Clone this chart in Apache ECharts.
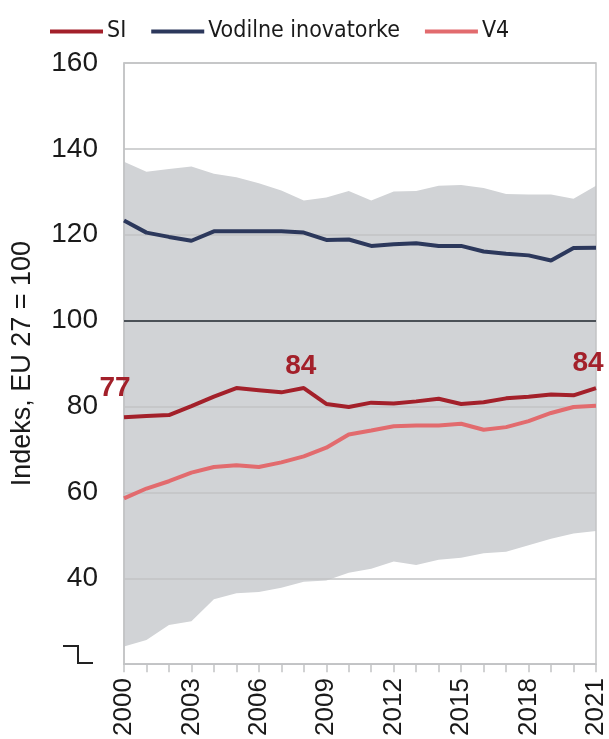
<!DOCTYPE html>
<html>
<head>
  <meta charset="UTF-8">
  <script src="https://cdn.jsdelivr.net/npm/echarts@6/dist/echarts.min.js"></script>
  <style>
    html, body { margin: 0; padding: 0; background: #fff; }
    #chart { width: 609px; height: 739px; }
  </style>
</head>
<body>
  <div id="chart"></div>
  <script>
    // podatki
    var years = ['2000','2001','2002','2003','2004','2005','2006','2007','2008','2009','2010',
                 '2011','2012','2013','2014','2015','2016','2017','2018','2019','2020','2021'];
    var si = [77.5, 77.8, 78.0, 80.1, 82.3, 84.3, 83.8, 83.3, 84.3, 80.6, 79.9,
              80.9, 80.7, 81.2, 81.8, 80.6, 81.0, 81.9, 82.3, 82.8, 82.6, 84.3];
    var leaders = [123.3, 120.5, 119.5, 118.6, 120.8, 120.8, 120.8, 120.8, 120.5, 118.8, 118.9,
                   117.4, 117.8, 118.0, 117.4, 117.4, 116.1, 115.6, 115.2, 114.0, 116.9, 117.0];
    var v4 = [58.6, 60.9, 62.6, 64.6, 65.9, 66.3, 65.9, 67.0, 68.4, 70.4, 73.5,
              74.4, 75.4, 75.6, 75.6, 76.0, 74.6, 75.2, 76.6, 78.5, 79.9, 80.2];
    // razpon vseh drzav EU (min / max)
    var bandMin = [24.1, 25.6, 29.1, 30.0, 35.1, 36.5, 36.8, 37.8, 39.2, 39.5, 41.3,
                   42.2, 43.9, 43.1, 44.3, 44.8, 45.8, 46.2, 47.7, 49.2, 50.4, 51.0];
    var bandMax = [137.0, 134.7, 135.3, 135.9, 134.2, 133.4, 132.0, 130.3, 128.0, 128.7, 130.2,
                   128.0, 130.1, 130.2, 131.4, 131.6, 130.9, 129.5, 129.4, 129.4, 128.4, 131.4];
    var yTicks = [20, 160, 20];  // min, max, interval
    var siLabels = { 0: '77', 8: '84', 21: '84' };

    var bandSpan = bandMax.map(function (v, i) { return +(v - bandMin[i]).toFixed(1); });

    var redDark = '#a3202a';
    var labelOffsets = { 0: [-9, -10], 8: [-3, -3], 21: [-8, -6] };

    // oznake vrednosti za SI
    var siData = si.map(function (v, i) {
      var item = { value: v };
      if (siLabels[i]) {
        item.label = {
          show: true, position: 'top', offset: labelOffsets[i], formatter: siLabels[i],
          fontFamily: 'Liberation Sans', fontSize: 28, fontWeight: 'bold', color: redDark
        };
      }
      return item;
    });

    var myChart = echarts.init(document.getElementById('chart'));

    myChart.setOption({
      animation: false,
      textStyle: { fontFamily: 'Liberation Sans' },
      legend: {
        data: ['SI', 'Vodilne inovatorke', 'V4'],
        left: 45,
        top: 15,
        icon: 'rect',
        itemWidth: 53,
        itemHeight: 4,
        itemGap: 25,
        textStyle: {
          fontFamily: "'Liberation Sans Narrow', 'DejaVu Sans Condensed', 'Liberation Sans', sans-serif",
          fontSize: 23, color: '#1a1a1a', padding: [0, 0, 0, -1]
        }
      },
      grid: {
        left: 124, right: 12, top: 63, bottom: 74,
        show: true,
        borderColor: '#c2c3c5',
        borderWidth: 1.5
      },
      xAxis: {
        type: 'category',
        data: years,
        boundaryGap: false,
        axisLine: { lineStyle: { color: '#c2c3c5', width: 1.5 } },
        axisTick: { show: true, interval: 0, length: 8, lineStyle: { color: '#c2c3c5', width: 1.5 } },
        axisLabel: { interval: 2, rotate: 90, margin: 14, fontSize: 26, color: '#1a1a1a' },
        splitLine: { show: false }
      },
      yAxis: {
        type: 'value',
        min: yTicks[0],
        max: yTicks[1],
        interval: yTicks[2],
        name: 'Indeks, EU 27 = 100',
        nameLocation: 'middle',
        nameGap: 88,
        nameTextStyle: { fontSize: 27, color: '#1a1a1a' },
        axisLine: { show: true, lineStyle: { color: '#c2c3c5', width: 1.5 } },
        axisTick: { show: false },
        axisLabel: {
          fontSize: 28, color: '#1a1a1a', margin: 26,
          formatter: function (v) { return v === 20 ? '' : v; }
        },
        splitLine: { lineStyle: { color: '#c2c3c5', width: 1.5 } }
      },
      graphic: [{
        // prelom osi
        type: 'polyline',
        shape: { points: [[63, 646], [78, 646], [78, 663], [93, 663]] },
        style: { stroke: '#222', lineWidth: 2, fill: null }
      }],
      series: [
        {
          name: 'min',
          type: 'line',
          stack: 'band',
          data: bandMin,
          symbol: 'none',
          lineStyle: { width: 0 },
          silent: true,
          z: -2
        },
        {
          name: 'razpon',
          type: 'line',
          stack: 'band',
          data: bandSpan,
          symbol: 'none',
          lineStyle: { width: 0 },
          areaStyle: { color: '#d1d3d6', opacity: 1 },
          silent: true,
          z: -2
        },
        {
          name: 'Vodilne inovatorke',
          type: 'line',
          data: leaders,
          symbol: 'none',
          color: '#2c385c',
          lineStyle: { width: 4, color: '#2c385c' },
          markLine: {
            silent: true,
            symbol: 'none',
            label: { show: false },
            lineStyle: { color: '#4b5157', width: 2, type: 'solid' },
            data: [{ yAxis: 100 }]
          }
        },
        {
          name: 'V4',
          type: 'line',
          data: v4,
          symbol: 'none',
          color: '#e26b6e',
          lineStyle: { width: 4, color: '#e26b6e' }
        },
        {
          name: 'SI',
          type: 'line',
          data: siData,
          symbol: 'circle',
          symbolSize: 0,
          showSymbol: true,
          color: redDark,
          lineStyle: { width: 4, color: redDark }
        }
      ]
    });
  </script>
</body>
</html>
